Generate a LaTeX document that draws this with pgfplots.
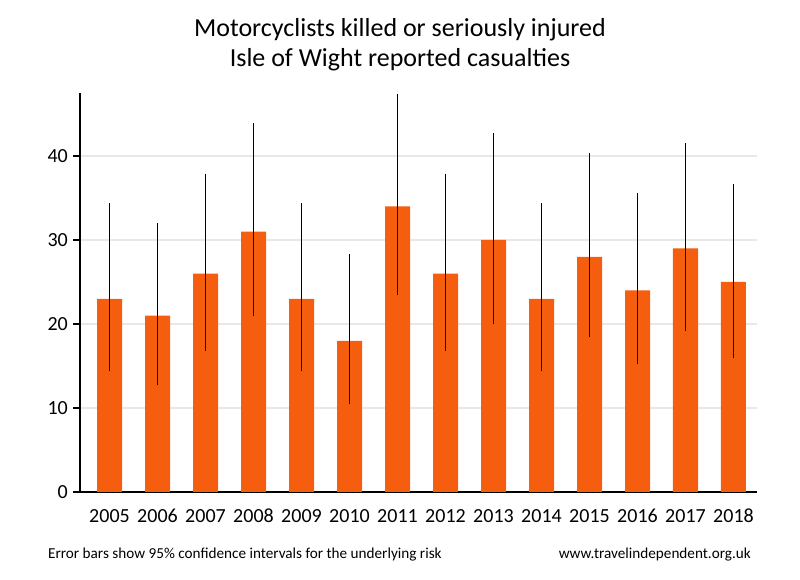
\documentclass[border=0pt]{standalone}
\usepackage{pgfplots}
\pgfplotsset{compat=1.18}
\usepackage{pgfplotstable}
\usepackage{fontspec}
\setmainfont{Carlito}
\definecolor{barorange}{RGB}{245,94,14}
\definecolor{gridgray}{RGB}{232,232,232}
\pgfplotstableread{
x year y ep em
0 2005 23 11.4 8.6
1 2006 21 11.0 8.3
2 2007 26 11.9 9.2
3 2008 31 12.9 10.1
4 2009 23 11.4 8.6
5 2010 18 10.3 7.5
6 2011 34 13.4 10.6
7 2012 26 11.9 9.2
8 2013 30 12.7 10.0
9 2014 23 11.4 8.6
10 2015 28 12.3 9.6
11 2016 24 11.6 8.8
12 2017 29 12.5 9.8
13 2018 25 11.7 9.0
}\datatable
\begin{document}
\begin{tikzpicture}[x=1bp,y=1bp]
\path (0,0) rectangle (800,580);
\node[anchor=base,font=\fontsize{26bp}{30bp}\selectfont] at (400,543) {Motorcyclists killed or seriously injured};
\node[anchor=base,font=\fontsize{26bp}{30bp}\selectfont] at (400,513) {Isle of Wight reported casualties};
\node[anchor=base west,inner sep=0pt,font=\fontsize{15.2bp}{17bp}\selectfont] at (48,21) {Error bars show 95\% confidence intervals for the underlying risk};
\node[anchor=base east,inner sep=0pt,font=\fontsize{15.2bp}{17bp}\selectfont] at (751,21) {www.travelindependent.org.uk};
\begin{axis}[
  at={(80bp,88bp)}, anchor=south west,
  scale only axis, width=677bp, height=399bp,
  xmin=-0.615, xmax=13.49, ymin=0, ymax=47.5,
  axis x line*=bottom, axis y line*=left,
  axis line style={line width=2bp, black, -},
  xtick=data, xticklabels from table={\datatable}{year},
  ytick={0,10,20,30,40},
  major x tick style={draw=none},
  major y tick style={line width=2bp, black},
  tick align=outside, major tick length=7bp,
  ymajorgrids, grid style={line width=2bp, gridgray},
  /pgf/number format/assume math mode=true,
  tick label style={font=\fontsize{20bp}{22bp}\selectfont},
  xticklabel style={anchor=base, yshift=-24bp},
  yticklabel style={anchor=east, inner sep=0pt, xshift=-5bp},
]
\addplot[ybar, bar width=25bp, fill=barorange, draw=none,
  error bars/.cd, y dir=both, y explicit, error mark=none,
  error bar style={line width=1.1bp, black}]
  table[x=x, y=y, y error plus=ep, y error minus=em] {\datatable};
\end{axis}
\end{tikzpicture}
\end{document}
